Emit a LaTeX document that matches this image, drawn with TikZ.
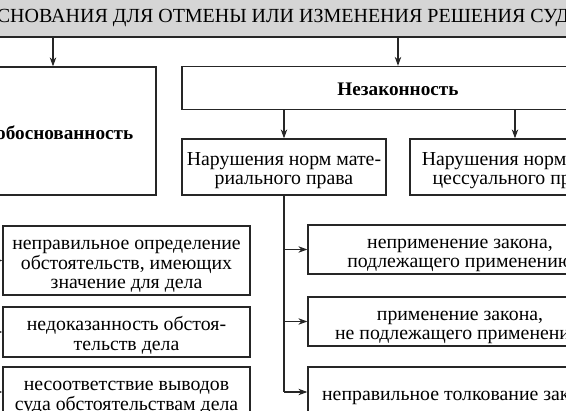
\documentclass[tikz,border=0pt]{standalone}
\usepackage{fontspec}
\setmainfont{Liberation Serif}
\usetikzlibrary{arrows.meta}
\newcommand{\boxtxt}[2][9pt]{\raisebox{0pt}[\dimexpr\height+#1\relax][\depth]{\begin{tabular}{@{}c@{}}#2\end{tabular}}}
\begin{document}
\begin{tikzpicture}[x=1pt,y=-1pt,
  box/.style={draw=black!85, line width=1.3pt, fill=white, inner sep=0pt,
    font=\fontsize{19.8}{19.5}\selectfont},
  bbox/.style={box, font=\fontsize{19.2}{19.5}\selectfont\bfseries},
  conn/.style={draw=black!85, line width=1.1pt},
  arr/.style={conn, -{Stealth[length=9pt,width=6.5pt]}}]
\useasboundingbox (0,0) rectangle (566,411);
\clip (0,0) rectangle (566,411);
% top box
\node[box, fill=gray!33, line width=1.7pt, minimum width=720pt, minimum height=39pt,
  font=\fontsize{20}{20}\selectfont] (top) at (283,17.5)
  {\boxtxt[3pt]{ОСНОВАНИЯ ДЛЯ ОТМЕНЫ ИЛИ ИЗМЕНЕНИЯ РЕШЕНИЯ СУДА}};
% second level
\node[bbox, minimum width=206pt, minimum height=128pt] (nb) at (53,131) {\boxtxt[9pt]{Необоснованность}};
\node[bbox, minimum width=432pt, minimum height=43pt] (nz) at (398,88) {\boxtxt[8pt]{Незаконность}};
% third level
\node[box, minimum width=204pt, minimum height=56pt] (nm) at (284,167)
  {\boxtxt[8pt]{Нарушения норм мате-\\риального права}};
\node[box, minimum width=210pt, minimum height=56pt] (np) at (515,167)
  {\boxtxt[8pt]{Нарушения норм про-\\цессуального права}};
% right column
\node[box, minimum width=304pt, minimum height=49pt] (r1) at (460,249.5)
  {\boxtxt{неприменение закона,\\подлежащего применению}};
\node[box, minimum width=304pt, minimum height=49pt] (r2) at (460,321.5)
  {\boxtxt{применение закона,\\не подлежащего применению}};
\node[box, minimum width=304pt, minimum height=50pt] (r3) at (460,392)
  {\boxtxt{неправильное толкование закона}};
% left column
\node[box, minimum width=247pt, minimum height=69pt] (l1) at (126.5,260.5)
  {\boxtxt{неправильное определение\\обстоятельств, имеющих\\значение для дела}};
\node[box, minimum width=247pt, minimum height=50pt] (l2) at (126.5,332)
  {\boxtxt{недоказанность обстоя-\\тельств дела}};
\node[box, minimum width=247pt, minimum height=50pt] (l3) at (126.5,392)
  {\boxtxt{несоответствие выводов\\суда обстоятельствам дела}};
% connectors
\draw[arr] (top.south -| nb.north) -- (nb.north);
\draw[arr] (top.south -| nz.north) -- (nz.north);
\draw[arr] (nz.south -| nm.north) -- (nm.north);
\draw[arr] (nz.south -| np.north) -- (np.north);
\draw[conn] (nm.south) -- (nm.south |- r3.west);
\draw[arr] (nm.south |- r1.west) -- (r1.west);
\draw[arr] (nm.south |- r2.west) -- (r2.west);
\draw[arr] (nm.south |- r3.west) -- (r3.west);
\coordinate (lv) at (-12,200);
\draw[conn] (lv) -- (lv |- l3.west);
\draw[arr] (lv |- l1.west) -- (l1.west);
\draw[arr] (lv |- l2.west) -- (l2.west);
\draw[arr] (lv |- l3.west) -- (l3.west);
\end{tikzpicture}
\end{document}
